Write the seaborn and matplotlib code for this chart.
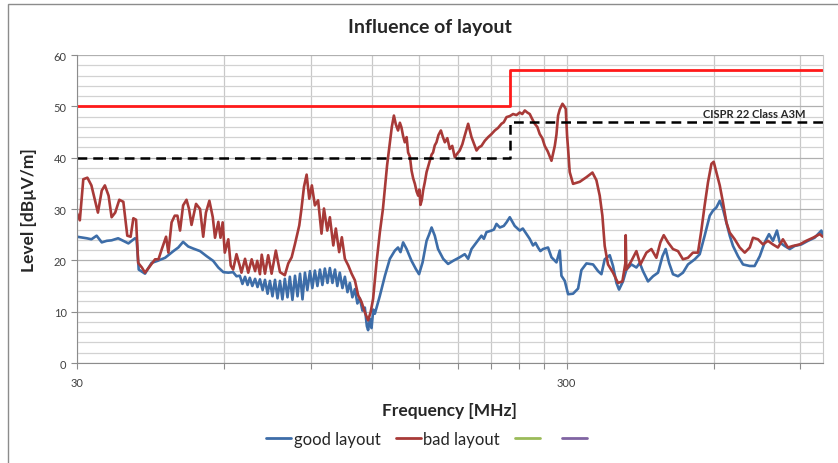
import numpy as np
import pandas as pd
import matplotlib
matplotlib.use('Agg')
import matplotlib.pyplot as plt
from matplotlib.ticker import FixedLocator, NullFormatter
from matplotlib.patches import Rectangle
import seaborn as sns

# ---- data (frequency in MHz, level in dBuV/m) ----
bad_freq = [30.0, 30.4, 30.9, 31.5, 32.1, 33.1, 33.7, 34.2, 34.8, 35.3, 35.9, 36.6, 37.3, 38.0,
            38.6, 39.1, 39.6, 40.0, 40.7, 41.3, 42.3, 43.3, 44.0, 44.7, 45.6, 46.1, 46.8, 47.5,
            48.1, 48.7, 49.4, 50.2, 50.8, 51.4, 52.5, 53.5, 54.3, 55.0, 55.9, 56.8, 57.4, 58.3,
            58.9, 59.5, 60.1, 61.1, 61.8, 62.5, 63.5, 64.5, 65.0, 66.1, 67.1, 68.2, 69.3, 70.0,
            70.9, 71.5, 72.6, 73.7, 74.9, 76.4, 77.9, 79.7, 81.0, 82.3, 83.6, 85.3, 86.2, 87.2,
            88.3, 89.4, 90.5, 91.8, 93.2, 94.7, 95.8, 97.3, 98.5, 100.1, 101.3, 102.9, 104.2,
            105.7, 107.4, 109.1, 110.8, 112.5, 114.3, 116.1, 117.9, 119.3, 120.7, 122.7, 124.6,
            126.4, 128.9, 130.6, 131.8, 133.1, 134.3, 135.7, 136.9, 137.9, 139.0, 140.1, 141.3,
            142.3, 143.5, 144.6, 145.7, 146.9, 148.1, 149.2, 150.0, 150.8, 151.8, 152.7, 153.9,
            155.2, 156.3, 157.6, 158.9, 160.0, 161.3, 162.6, 164.1, 166.0, 167.6, 169.1, 171.1,
            173.1, 175.1, 177.2, 179.3, 181.4, 183.6, 185.7, 188.7, 191.7, 193.8, 196.3, 198.4,
            200.9, 204.1, 207.3, 210.6, 213.9, 217.2, 220.7, 223.1, 226.0, 229.5, 233.1, 236.8,
            240.5, 243.4, 246.3, 249.2, 252.1, 255.1, 258.1, 261.2, 264.2, 267.4, 270.5, 274.4,
            279.2, 283.6, 285.8, 288.0, 290.3, 294.0, 296.5, 298.6, 300.4, 301.9, 304.2, 309.0,
            318.9, 329.1, 338.5, 344.9, 350.3, 354.7, 358.6, 364.2, 372.9, 381.7, 389.7, 395.3,
            395.8, 397.1, 406.6, 416.2, 424.1, 436.3, 446.6, 457.2, 465.9, 473.3, 482.9, 494.3,
            506.1, 518.1, 530.4, 543.0, 555.9, 564.8, 573.7, 582.8, 592.3, 598.6, 606.2, 615.9,
            625.3, 635.4, 645.5, 660.8, 676.6, 692.7, 709.2, 720.1, 737.2, 754.7, 772.6, 790.9,
            809.7, 828.9, 848.6, 868.7, 897.1, 924.9, 954.7, 985.5, 1000.0]
bad_level = [29.2, 27.8, 35.8, 36.1, 34.6, 29.3, 33.6, 34.6, 32.6, 28.4, 29.3, 31.8, 31.4, 24.8,
             24.6, 28.2, 27.9, 19.5, 18.6, 17.6, 18.9, 20.2, 20.2, 22.2, 24.6, 21.5, 27.4, 28.7,
             28.7, 25.8, 30.7, 31.8, 30.0, 26.9, 31.0, 30.0, 24.6, 29.3, 31.6, 28.4, 24.4, 27.5,
             24.4, 27.4, 21.5, 24.1, 19.0, 18.2, 21.2, 18.9, 17.6, 20.3, 17.6, 20.2, 17.9, 19.9,
             17.3, 21.1, 17.4, 21.0, 17.4, 21.9, 17.7, 17.1, 19.4, 20.6, 23.2, 26.8, 30.1, 34.3,
             36.7, 32.0, 34.6, 30.7, 31.7, 25.2, 30.1, 25.8, 28.4, 22.9, 26.2, 21.6, 24.5,
             20.3, 19.0, 17.4, 16.1, 13.2, 11.9, 9.9, 8.3, 9.9, 12.5, 19.7, 25.5,
             30.0, 38.5, 43.0, 46.0, 48.2, 46.5, 45.3, 46.8, 45.9, 44.2, 43.0, 44.0,
             41.0, 40.2, 37.5, 36.0, 34.9, 33.4, 32.6, 33.8, 30.8, 31.8, 33.6, 35.2,
             37.2, 38.2, 39.4, 40.6, 41.0, 42.4, 43.0, 44.4, 45.3, 44.0, 43.0, 43.8,
             41.7, 42.3, 40.1, 40.8, 41.4, 42.6, 44.3, 46.6, 44.0, 42.8, 41.4, 42.0,
             42.3, 43.3, 44.0, 44.6, 45.3, 45.8, 46.6, 46.9, 47.9, 48.1, 48.5, 48.3,
             48.8, 48.5, 49.2, 48.8, 48.5, 47.5, 46.6, 46.0, 44.6, 43.8, 42.3, 41.2,
             39.4, 42.3, 44.5, 48.2, 49.4, 50.5, 50.0, 49.5, 44.4, 41.7, 37.2, 34.9,
             35.3, 36.2, 37.1, 35.6, 32.6, 28.7, 22.8, 19.2, 17.6, 15.6, 15.9, 19.5,
             24.9, 18.2, 19.9, 21.8, 19.2, 21.5, 22.2, 20.5, 23.5, 24.9, 23.5, 22.2,
             21.8, 20.2, 20.5, 21.5, 21.5, 25.8, 30.7, 35.2, 38.8, 39.2, 37.2, 34.6,
             31.3, 27.4, 25.4, 24.1, 22.5, 21.5, 22.5, 24.4, 24.1, 23.1, 23.8, 23.1,
             22.5, 24.1, 22.5, 22.8, 23.1, 23.8, 24.4, 25.1, 24.6]

good_freq = [30.0, 31.4, 32.1, 32.9, 33.7, 34.5, 35.3, 36.4, 37.3, 38.2, 39.4, 39.7, 40.1, 41.3,
             42.6, 43.8, 45.4, 47.2, 48.3, 49.4, 50.6, 51.8, 53.5, 55.2, 56.9, 58.3, 59.7, 61.1,
             62.5, 63.5,
             64.5, 65.3, 66.1, 66.9, 67.6, 68.4, 69.3, 70.1, 70.9, 71.8, 72.6, 73.5, 74.3, 75.2,
             76.1, 77.0, 77.9, 78.8, 79.7, 80.7, 81.6, 82.6, 83.6, 84.6, 85.6, 86.6, 87.6, 88.6,
             89.7, 90.7, 91.8, 92.9, 94.0, 95.1, 96.2, 97.4, 98.5, 99.7, 100.9, 102.0, 103.2,
             104.5, 105.7, 107.0, 108.2, 109.5, 110.8, 112.1, 113.4, 114.8, 116.1, 117.2, 117.9,
             118.9, 119.8, 120.8, 121.7,
             124.6, 127.6, 130.6, 133.7, 135.7, 137.3, 139.0, 141.3, 144.6, 147.6, 149.8, 152.3,
             155.2, 157.0, 158.9, 161.3, 163.8, 167.8, 171.7, 175.8, 181.4, 185.7, 188.7, 191.7,
             196.3, 200.9, 203.2, 205.7, 210.6, 213.0, 215.6, 219.0, 223.1, 226.0, 229.5, 234.9,
             240.5, 244.0, 248.3, 252.0, 256.0, 259.0, 262.1, 265.0, 268.3, 274.7, 279.2, 285.8,
             290.3, 292.6, 297.2, 301.9, 309.0, 316.4, 321.4, 329.1, 339.5, 347.6, 353.1,
             358.6, 367.2, 372.9, 378.9, 383.6, 390.8, 397.1, 406.6, 416.2, 422.8, 429.3, 439.6,
             450.1, 460.8, 470.5, 477.6, 485.3, 494.3, 506.1, 518.1, 530.4, 547.6, 560.6, 573.7,
             587.6, 596.8, 606.2, 615.9, 625.3, 635.4, 645.5, 655.5, 671.2, 687.1, 709.2, 725.6,
             743.3, 760.9, 776.4, 790.9, 805.9, 816.6, 835.9, 855.9, 876.1, 903.9, 932.5, 962.0,
             993.0, 1000.0]
good_level = [24.6, 24.3, 24.1, 24.8, 23.5, 23.8, 23.9, 24.3, 23.8, 23.3, 24.3, 24.1, 18.2, 17.4,
              19.5, 19.9, 20.5, 21.8, 22.5, 23.6, 22.7, 22.3, 21.8, 20.8, 19.9, 18.6, 17.7, 17.6,
              17.7, 16.9,
              17.0, 15.4, 16.8, 15.2, 16.6, 15.0, 16.4, 14.8, 16.3, 14.2, 16.2, 13.5, 16.0, 13.0,
              16.2, 12.6, 16.0, 12.4, 16.4, 12.8, 16.8, 12.3, 17.0, 13.0, 17.4, 12.4, 17.6, 14.2,
              17.9, 14.6, 18.0, 15.0, 18.2, 15.2, 18.4, 15.6, 18.5, 15.6, 18.2, 15.0, 17.6,
              14.6, 16.8, 13.8, 15.6, 12.8, 14.4, 11.6, 12.6, 10.2, 10.8, 7.2, 6.4,
              8.6, 6.8, 10.4, 9.6,
              13.1, 17.0, 20.3, 21.9, 22.5, 21.6, 23.5, 22.2, 19.9, 18.3, 17.3, 19.6,
              23.8, 25.0, 26.4, 24.8, 22.2, 20.3, 19.3, 19.9, 20.6, 21.2, 20.3, 22.2,
              23.5, 24.8, 24.2, 25.5, 25.8, 26.0, 27.1, 26.4, 26.7, 27.4, 28.4, 26.7,
              25.8, 26.2, 25.1, 24.2, 22.9, 23.4, 22.5, 21.8, 22.2, 22.5, 20.6, 19.6,
              21.9, 17.0, 16.0, 13.4, 13.5, 14.5, 18.1, 19.4, 19.2, 17.9, 17.3,
              20.2, 21.0, 18.9, 15.6, 14.3, 15.9, 18.2, 19.2, 18.6, 19.5, 17.9, 15.9,
              16.9, 17.6, 20.8, 22.2, 19.5, 17.3, 16.9, 17.6, 19.2, 20.2, 21.2, 24.8,
              28.7, 29.7, 30.3, 31.6, 30.0, 27.4, 24.8, 22.8, 20.8, 19.2, 18.9, 18.9,
              20.8, 23.5, 25.1, 23.8, 25.8, 23.5, 22.8, 22.2, 22.8, 23.1, 23.8, 24.4,
              25.8, 24.9]

# CISPR 22 limit lines (step at 230 MHz)
limit_freq = [30, 230, 230, 1000]
limit_red = [50, 50, 57, 57]
limit_a3m = [40, 40, 47, 47]

x_major = [30, 300]
x_minor = [60, 90, 120, 150, 180, 210, 240, 270, 600, 900]

# ---- style ----
sns.set_style('white')
plt.rcParams['font.family'] = ['Lato', 'DejaVu Sans']

good_df = pd.DataFrame({'freq': good_freq, 'level': good_level})
bad_df = pd.DataFrame({'freq': bad_freq, 'level': bad_level})

fig = plt.figure(figsize=(8.38, 4.64), dpi=100)
ax = fig.add_axes([0.0919, 0.2155, 0.890, 0.6638])
ax.set_axisbelow(True)

sns.lineplot(data=good_df, x='freq', y='level', ax=ax, color='#3D6DA8', lw=1.9,
             estimator=None, sort=False)
sns.lineplot(data=bad_df, x='freq', y='level', ax=ax, color='#A83A38', lw=1.9,
             estimator=None, sort=False)
ax.plot(limit_freq, limit_red, color='#FF1A1A', lw=2.0)
ax.plot(limit_freq, limit_a3m, color='black', lw=1.8, dashes=(3.9, 2.4))

ax.set_xscale('log')
ax.set_xlim(30, 1000)
ax.set_ylim(0, 60)

ax.xaxis.set_major_locator(FixedLocator(x_major))
ax.xaxis.set_minor_locator(FixedLocator(x_minor))
ax.set_xticklabels(['30', '300'])
ax.xaxis.set_minor_formatter(NullFormatter())
ax.set_yticks(range(0, 61, 10))
ax.yaxis.set_minor_locator(FixedLocator(list(range(2, 60, 2))))

ax.grid(which='major', axis='y', color='#B0B0B0', lw=0.9)
ax.grid(which='minor', axis='y', color='#D2D2D2', lw=0.9)
ax.grid(which='both', axis='x', color='#C8C8C8', lw=0.9)

ax.spines['top'].set_visible(False)
ax.spines['right'].set_color('#C8C8C8')
ax.spines['left'].set_color('#8C8C8C')
ax.spines['bottom'].set_color('#8C8C8C')

ax.tick_params(axis='both', which='major', labelsize=8, labelcolor='#404040',
               color='#8C8C8C', length=4, width=0.8, direction='out', left=True, bottom=True)
ax.tick_params(axis='x', which='minor', color='#8C8C8C', length=4, width=0.8,
               direction='out', bottom=True)
ax.tick_params(axis='y', which='minor', left=False)
ax.tick_params(axis='x', which='major', pad=6)

ax.set_xlabel('Frequency [MHz]', fontsize=12.5, fontweight='bold', labelpad=10)
ax.set_ylabel('Level [dBµV/m]', fontsize=12.5, fontweight='bold', labelpad=12)

ax.text(922, 47.5, 'CISPR 22 Class A3M', fontsize=8, fontweight='bold',
        ha='right', va='bottom')

fig.text(0.513, 0.94, 'Influence of layout', fontsize=14, fontweight='bold',
         ha='center', va='center')

handles = [plt.Line2D([], [], color='#3D6DA8', lw=2),
           plt.Line2D([], [], color='#A83A38', lw=2),
           plt.Line2D([], [], color='#9BBB59', lw=2),
           plt.Line2D([], [], color='#8064A2', lw=2)]
fig.legend(handles, ['good layout', 'bad layout', ' ', ' '], loc='center',
           bbox_to_anchor=(0.513, 0.052), ncol=4, frameon=False, fontsize=12,
           handlelength=1.5, handletextpad=0.15, columnspacing=0.9)

fig.patches.append(Rectangle((0.009, -0.02), 1.0, 1.01, transform=fig.transFigure,
                             fill=False, edgecolor='#8C8C8C', lw=1.0))

fig.savefig('out.png', dpi=100)
